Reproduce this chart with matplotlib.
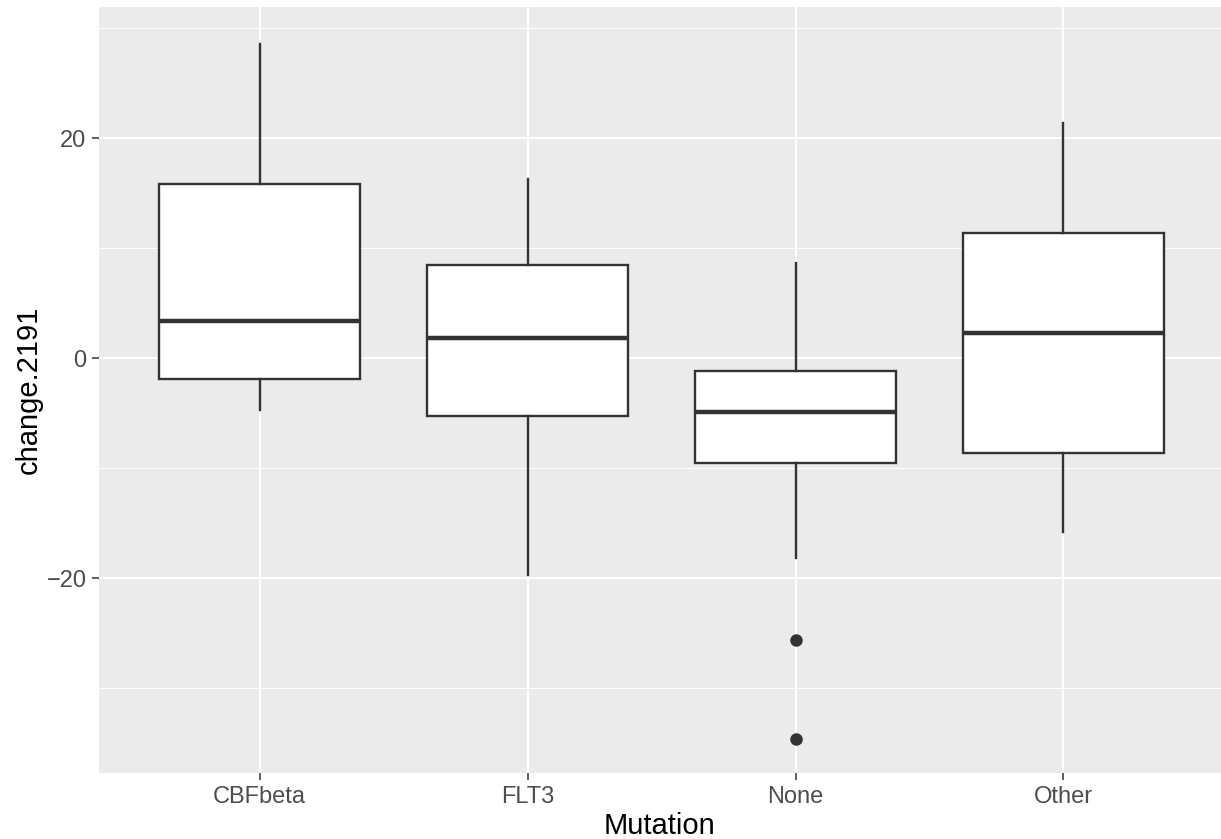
import numpy as np
import matplotlib
matplotlib.use("Agg")
import matplotlib.pyplot as plt

plt.rcParams['font.family'] = ['Liberation Sans', 'DejaVu Sans']

# values
mutation = ["CBFbeta", "FLT3", "None", "Other"]
whisker_lo = [-4.7, -19.7, -18.2, -15.8]
q1 = [-1.9, -5.3, -9.5, -8.64]
median = [3.4, 1.82, -4.9, 2.33]
q3 = [15.8, 8.48, -1.13, 11.4]
whisker_hi = [28.6, 16.27, 8.64, 21.4]
outliers = [[], [], [-25.6, -34.6], []]

stats = []
for i, m in enumerate(mutation):
    stats.append(dict(label=m, whislo=whisker_lo[i], q1=q1[i], med=median[i],
                      q3=q3[i], whishi=whisker_hi[i], fliers=outliers[i]))

W, H = 1221, 839
fig = plt.figure(figsize=(W / 100, H / 100), dpi=100)
ax = fig.add_axes([99 / W, (H - 773.3) / H, (W - 99) / W, 766 / H])
ax.set_facecolor("#EBEBEB")

dark = "#333333"
ax.bxp(stats, positions=np.arange(1, 5), widths=0.75, patch_artist=True,
       showcaps=False,
       boxprops=dict(facecolor="white", edgecolor=dark, linewidth=1.7),
       whiskerprops=dict(color=dark, linewidth=1.7),
       medianprops=dict(color=dark, linewidth=3.2),
       flierprops=dict(marker="o", markerfacecolor=dark, markeredgecolor=dark,
                       markersize=8),
       zorder=3)

ax.set_xlim(0.4, 0.4 + 1122 / 267.9)
ax.set_ylim(-37.75, 31.9)
ax.set_yticks([-20, 0, 20])
ax.set_yticks([-30, -10, 10, 30], minor=True)
ax.set_xticks(np.arange(1, 5))
ax.set_xticklabels(mutation)

ax.grid(which="major", color="white", linewidth=1.5, zorder=0)
ax.grid(which="minor", axis="y", color="white", linewidth=0.75, zorder=0)
ax.set_axisbelow(True)
for s in ax.spines.values():
    s.set_visible(False)

ax.tick_params(axis="both", which="major", length=5, width=1.1, color=dark,
               labelsize=17, labelcolor="#4D4D4D", pad=4)
ax.tick_params(axis="y", which="minor", length=0)

ax.set_xlabel("Mutation", fontsize=21, color="black", labelpad=3)
ax.set_ylabel("change.2191", fontsize=21, color="black", labelpad=3)

fig.savefig("out.png", dpi=100)
